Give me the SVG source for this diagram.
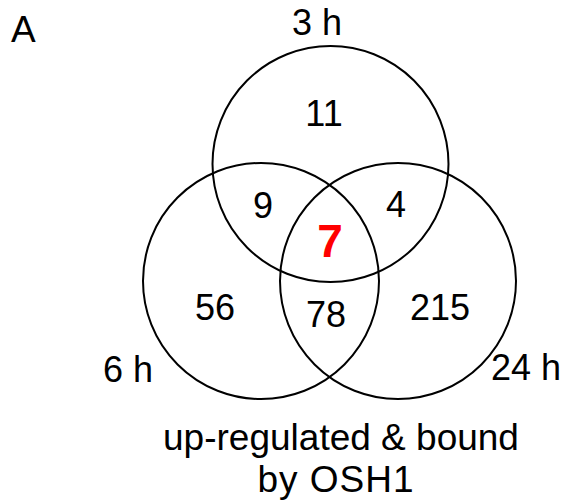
<svg xmlns="http://www.w3.org/2000/svg" width="565" height="500" viewBox="0 0 565 500">
  <style>
    .set { fill: none; stroke: #000; stroke-width: 2; }
    text { font-family: "Liberation Sans", Arial, sans-serif; fill: #000; }
    .lbl { font-size: 36px; }
    .cap { font-size: 37px; text-anchor: middle; }
    .num { font-size: 36px; text-anchor: middle; }
    .core { font-size: 46px; font-weight: bold; fill: #ff0000; text-anchor: middle; }
  </style>
  <rect width="565" height="500" fill="#fff"/>

  <text id="panel" class="lbl" x="11" y="42" style="font-size:37px">A</text>

  <g id="set-3h">
    <circle class="set" cx="330.5" cy="164" r="118"/>
    <text class="lbl" x="317" y="35" text-anchor="middle">3 h</text>
  </g>
  <g id="set-6h">
    <circle class="set" cx="261" cy="281" r="118"/>
    <text class="lbl" x="128" y="382" text-anchor="middle">6 h</text>
  </g>
  <g id="set-24h">
    <circle class="set" cx="398" cy="281" r="118"/>
    <text class="lbl" x="491" y="380">24 h</text>
  </g>

  <g id="counts">
    <text class="num" x="324" y="126">11</text>
    <text class="num" x="263" y="218">9</text>
    <text class="num" x="396" y="217">4</text>
    <text class="core" x="330" y="257">7</text>
    <text class="num" x="215" y="320">56</text>
    <text class="num" x="326" y="327">78</text>
    <text class="num" x="440" y="320">215</text>
  </g>

  <g id="caption">
    <text class="cap" x="341" y="450">up-regulated &amp; bound</text>
    <text class="cap" x="336" y="492" letter-spacing="1">by OSH1</text>
  </g>
</svg>
